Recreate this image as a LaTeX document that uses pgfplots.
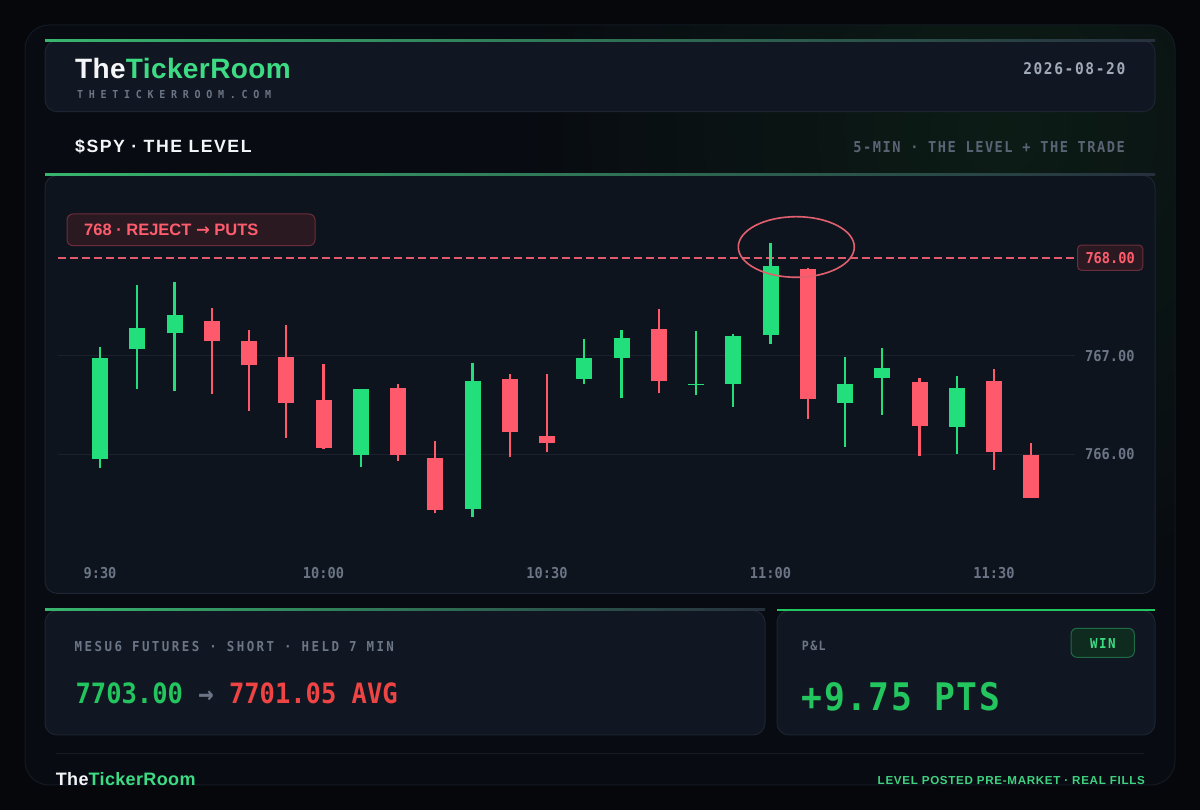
\documentclass[border=0pt]{standalone}
\usepackage{fontspec}
\setmainfont{Liberation Sans}
\newfontfamily\mono{DejaVu Sans Mono}[FakeStretch=0.91]
\newfontfamily\djv{DejaVu Sans}
\usepackage{pgfplots}
\pgfplotsset{compat=1.18}
\usepackage{pgfplotstable}

\definecolor{bg}{HTML}{05070B}
\definecolor{framec}{HTML}{080B11}
\definecolor{frameb}{HTML}{141A23}
\definecolor{card}{HTML}{111722}
\definecolor{cardb}{HTML}{1D2431}
\definecolor{chartcard}{HTML}{0E141E}
\definecolor{gline}{HTML}{38B56E}
\definecolor{glineend}{HTML}{26303D}
\definecolor{titlew}{HTML}{F3F5F8}
\definecolor{tgreen}{HTML}{3DDC84}
\definecolor{tgray}{HTML}{6B7585}
\definecolor{datec}{HTML}{A1AAB8}
\definecolor{subgray}{HTML}{5A6475}
\definecolor{cgreen}{HTML}{22DF7B}
\definecolor{cred}{HTML}{FF5A6B}
\definecolor{lvlred}{HTML}{E05A6C}
\definecolor{boxred}{HTML}{2B1922}
\definecolor{boxredb}{HTML}{6B2D3B}
\definecolor{rejtext}{HTML}{FF5D6D}
\definecolor{ellc}{HTML}{E0606F}
\definecolor{gridc}{HTML}{1A212C}
\definecolor{pnlgreen}{HTML}{22C55E}
\definecolor{pnlred}{HTML}{EF4444}
\definecolor{winfill}{HTML}{0F2A1F}
\definecolor{winb}{HTML}{1F6B45}
\definecolor{sepc}{HTML}{161C25}
\definecolor{footgreen}{HTML}{3FD281}
\definecolor{glow}{HTML}{0C1C15}
\definecolor{arrowg}{HTML}{6B7585}

\newcommand\fs[1]{\fontsize{#1}{#1}\selectfont}
\newcommand\tickfont{\mono\bfseries\fs{15}}

% x open high low close
\pgfplotstableread{
x open high low close
0 765.95 767.09 765.86 766.98
1 767.07 767.72 766.66 767.28
2 767.23 767.75 766.64 767.42
7 765.99 766.66 765.87 766.66
10 765.44 766.93 765.36 766.75
13 766.77 767.17 766.72 766.98
14 766.98 767.26 766.57 767.18
16 766.70 767.25 766.60 766.72
17 766.72 767.22 766.48 767.20
18 767.21 768.15 767.12 767.92
20 766.52 766.99 766.07 766.72
21 766.78 767.08 766.40 766.88
23 766.28 766.80 766.00 766.67
}\greenc

\pgfplotstableread{
x open high low close
3 767.36 767.49 766.61 767.15
4 767.15 767.26 766.44 766.91
5 766.99 767.32 766.17 766.52
6 766.55 766.92 766.05 766.06
8 766.67 766.72 765.93 765.99
9 765.96 766.14 765.40 765.43
11 766.77 766.82 765.97 766.23
12 766.19 766.82 766.02 766.11
15 767.27 767.48 766.62 766.75
19 767.88 767.90 766.36 766.56
22 766.74 766.78 765.98 766.29
24 766.75 766.87 765.84 766.02
25 765.99 766.11 765.56 765.56
}\redc

\begin{document}
\begin{tikzpicture}
\useasboundingbox (0pt,0pt) rectangle (1200pt,810pt);
\begin{scope}[x=1pt,y=1pt]
% background
\fill[bg] (0,0) rectangle (1200,810);
\begin{scope}
\clip[rounded corners=24] (25,25) rectangle (1175,785);
\fill[framec] (25,25) rectangle (1175,785);
\shade[inner color=glow, outer color=framec] (1000,680) circle (480);
\end{scope}
\draw[frameb, line width=1pt, rounded corners=24] (25,25) rectangle (1175,785);

% header card
\filldraw[fill=card, draw=cardb, line width=1pt, rounded corners=12] (45,698.3) rectangle (1155,769.5);
\shade[left color=gline, right color=glineend] (45,768.5) rectangle (1155,770.5);
\node[anchor=base west, inner sep=0pt] at (75,731.7) {\fs{28}\bfseries\addfontfeatures{LetterSpace=1.5}\textcolor{titlew}{The}\textcolor{tgreen}{TickerRoom}};
\node[anchor=base west, inner sep=0pt, text=tgray] at (77,711.7) {\mono\bfseries\fs{11}\addfontfeatures{LetterSpace=52}THETICKERROOM.COM};
\node[anchor=base east, inner sep=0pt, text=datec] at (1125.5,735) {\mono\bfseries\fs{16}\addfontfeatures{LetterSpace=10}2026-08-20};

% section title
\node[anchor=base west, inner sep=0pt, text=titlew] at (75,657.3) {\fs{17.7}\bfseries\addfontfeatures{LetterSpace=8.5}\$SPY · THE LEVEL};
\node[anchor=base east, inner sep=0pt, text=subgray] at (1125,657.3) {\mono\bfseries\fs{15}\addfontfeatures{LetterSpace=10}5-MIN · THE LEVEL + THE TRADE};

% chart card
\filldraw[fill=chartcard, draw=cardb, line width=1pt, rounded corners=12] (45,216.7) rectangle (1155,634.5);
\shade[left color=gline, right color=glineend] (45,634) rectangle (1155,636);

% reject box
\filldraw[fill=boxred, draw=boxredb, line width=1pt, rounded corners=6] (67,564.3) rectangle (315,596);
\node[anchor=base west, inner sep=0pt, text=rejtext] at (84,574) {\fs{16.5}\bfseries 768 · REJECT {\djv\bfseries →} PUTS};

% bottom left card
\filldraw[fill=card, draw=cardb, line width=1pt, rounded corners=12] (45,75) rectangle (765,199.5);
\shade[left color=gline, right color=glineend] (45,199) rectangle (765,201);
\node[anchor=base west, inner sep=0pt, text=tgray] at (74.5,158.3) {\mono\bfseries\fs{13.7}\addfontfeatures{LetterSpace=18}MESU6 FUTURES · SHORT · HELD 7 MIN};
\node[anchor=base west, inner sep=0pt] at (75.4,106) {\mono\bfseries\fs{28}\textcolor{pnlgreen}{7703.00} \textcolor{arrowg}{→} \textcolor{pnlred}{7701.05 AVG}};

% bottom right card
\filldraw[fill=card, draw=cardb, line width=1pt, rounded corners=12] (777,75) rectangle (1155,199.5);
\fill[pnlgreen] (777,199) rectangle (1155,201);
\node[anchor=base west, inner sep=0pt, text=tgray] at (801.7,159) {\mono\bfseries\fs{12.8}\addfontfeatures{LetterSpace=11}P\&L};
\filldraw[fill=winfill, draw=winb, line width=1pt, rounded corners=6] (1071,152.7) rectangle (1134.3,181.7);
\node[anchor=base, inner sep=0pt, text=tgreen] at (1102.8,161.7) {\mono\bfseries\fs{13.7}\addfontfeatures{LetterSpace=11}WIN};
\node[anchor=base west, inner sep=0pt, text=pnlgreen] at (801.7,99) {\mono\bfseries\fs{38}\addfontfeatures{LetterSpace=4}+9.75 PTS};

% footer
\draw[sepc, line width=1pt] (55.7,56.7) -- (1143.6,56.7);
\node[anchor=base west, inner sep=0pt] at (55.7,24.3) {\fs{18}\bfseries\addfontfeatures{LetterSpace=2}\textcolor{titlew}{The}\textcolor{tgreen}{TickerRoom}};
\node[anchor=base east, inner sep=0pt, text=footgreen] at (1145,25.7) {\fs{11.6}\bfseries\addfontfeatures{LetterSpace=6}LEVEL POSTED PRE-MARKET · REAL FILLS};

% level line 768
\foreach \xs in {58,70,...,1066} {
  \fill[lvlred] (\xs,551.3) rectangle ++(7.5,2);
}
\end{scope}

\begin{axis}[
  at={(58pt,280pt)}, anchor=south west,
  scale only axis, width=1017pt, height=330pt,
  xmin=-1.1275, xmax=26.174, ymin=765.230, ymax=768.587,
  axis line style={draw=none},
  major tick length=0pt,
  tick style={draw=none},
  xtick={0,6,12,18,24}, xticklabels={9:30,10:00,10:30,11:00,11:30},
  xticklabel style={font=\tickfont, text=tgray, inner sep=0pt, anchor=north, yshift=-37pt},
  ytick={766,767}, yticklabels={766.00,767.00},
  yticklabel pos=right,
  yticklabel style={font=\tickfont, text=tgray, inner sep=0pt, anchor=west, xshift=10pt},
  ymajorgrids, grid style={draw=gridc, line width=1pt},
  clip=false,
]
% wicks
\addplot[draw=none, mark=none, forget plot, error bars/.cd, y dir=plus, y explicit, error mark=none,
  error bar style={draw=cgreen, line width=2.2pt}]
  table[x=x, y=low, y error plus expr=\thisrow{high}-\thisrow{low}] {\greenc};
\addplot[draw=none, mark=none, forget plot, error bars/.cd, y dir=plus, y explicit, error mark=none,
  error bar style={draw=cred, line width=2.2pt}]
  table[x=x, y=low, y error plus expr=\thisrow{high}-\thisrow{low}] {\redc};
% bodies
\addplot[draw=none, mark=none, forget plot, error bars/.cd, y dir=plus, y explicit, error mark=none,
  error bar style={draw=cgreen, line width=16pt}]
  table[x=x, y=open, y error plus expr=\thisrow{close}-\thisrow{open}] {\greenc};
\addplot[draw=none, mark=none, forget plot, error bars/.cd, y dir=plus, y explicit, error mark=none,
  error bar style={draw=cred, line width=16pt}]
  table[x=x, y=close, y error plus expr=\thisrow{open}-\thisrow{close}] {\redc};
% level label
\node[anchor=west, xshift=2pt, font=\tickfont, text=rejtext, fill=boxred, draw=boxredb, line width=1pt, rounded corners=4pt, inner xsep=8pt, inner ysep=7pt] at (axis cs:26.174,768) {768.00};
\end{axis}

\begin{scope}[x=1pt,y=1pt]
\draw[ellc, line width=1.6pt] (796.3,563) ellipse [x radius=58, y radius=30.3];
\end{scope}
\end{tikzpicture}
\end{document}
